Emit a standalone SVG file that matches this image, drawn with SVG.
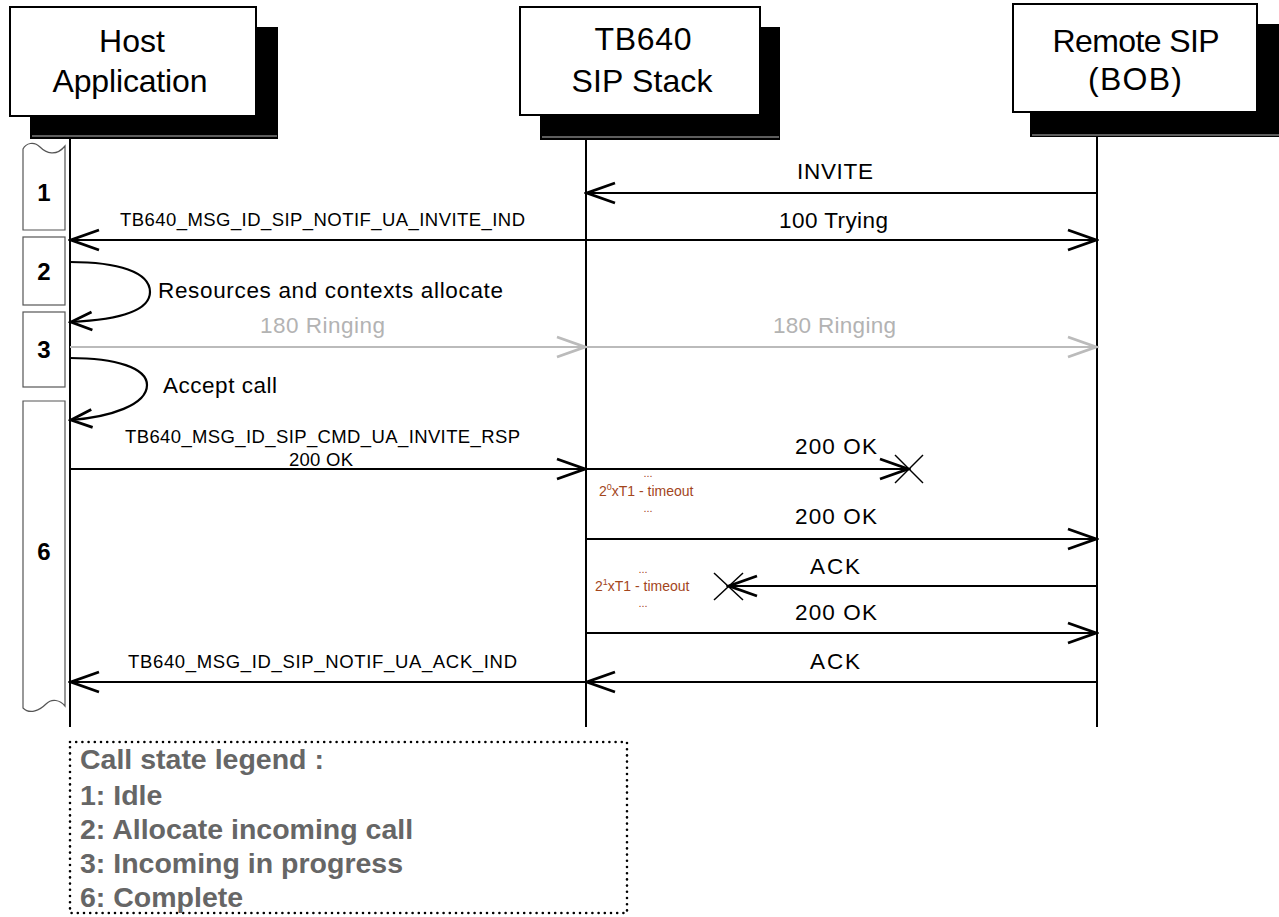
<svg xmlns="http://www.w3.org/2000/svg" width="1279" height="917" viewBox="0 0 1279 917">
<style>
text{font-family:"Liberation Sans",Arial,sans-serif;}
.hdr{font-size:32px;fill:#000;text-anchor:middle;}
.box{fill:#fff;stroke:#000;stroke-width:2;}
.shadow{fill:#000;}
.shline{stroke:#bbb;stroke-width:1;}
.life{stroke:#000;stroke-width:2;fill:none;}
.msg{stroke:#000;stroke-width:2.2;fill:none;marker-end:url(#arr);}
.gmsg{stroke:#bbb;stroke-width:2.2;fill:none;marker-end:url(#garr);}
.lbl{font-size:22.5px;fill:#000;text-anchor:middle;}
.glbl{font-size:22.5px;fill:#b3b3b3;text-anchor:middle;}
.sm{font-size:18.5px;fill:#000;text-anchor:middle;}
.tmo{font-size:14px;fill:#a3461c;}
.dots{font-size:11px;fill:#a3461c;text-anchor:middle;}
.state{fill:#fff;stroke:#555;stroke-width:1.2;}
.snum{font-size:24px;font-weight:bold;fill:#000;text-anchor:middle;}
.xm{stroke:#000;stroke-width:1.5;}
.leg{font-size:28.5px;font-weight:bold;fill:#666;}
</style>
<defs>
<marker id="arr" markerUnits="userSpaceOnUse" markerWidth="34" markerHeight="26" viewBox="-31 -13 34 26" refX="0" refY="0" orient="auto">
<path d="M-28,-10 L0,0 L-28,10" fill="none" stroke="#000" stroke-width="2.8"/>
</marker>
<marker id="garr" markerUnits="userSpaceOnUse" markerWidth="34" markerHeight="26" viewBox="-31 -13 34 26" refX="0" refY="0" orient="auto">
<path d="M-28,-10 L0,0 L-28,10" fill="none" stroke="#bbb" stroke-width="2.8"/>
</marker>
<marker id="larr" markerUnits="userSpaceOnUse" markerWidth="26" markerHeight="24" viewBox="-23 -12 26 24" refX="0" refY="0" orient="auto">
<path d="M-21,-9 L0,0 L-21,9" fill="none" stroke="#000" stroke-width="2.8"/>
</marker>
</defs>

<g id="host">
<rect class="shadow" x="30" y="27" width="248" height="112"/>
<line class="shline" x1="32" y1="136" x2="277" y2="136"/>
<rect class="box" x="10" y="7" width="246" height="109"/>
<text class="hdr" x="132" y="52" textLength="66">Host</text>
<text class="hdr" x="130" y="92" textLength="155">Application</text>
</g>
<g id="tb640">
<rect class="shadow" x="540" y="27" width="240" height="113"/>
<line class="shline" x1="542" y1="137" x2="779" y2="137"/>
<rect class="box" x="520" y="7" width="240" height="108"/>
<text class="hdr" x="643" y="50" textLength="97">TB640</text>
<text class="hdr" x="642" y="92" textLength="141">SIP Stack</text>
</g>
<g id="remote">
<rect class="shadow" x="1030" y="24" width="252" height="113"/>
<line class="shline" x1="1032" y1="135" x2="1279" y2="135"/>
<rect class="box" x="1013" y="4" width="244" height="108"/>
<text class="hdr" x="1136" y="52" textLength="167">Remote SIP</text>
<text class="hdr" x="1135" y="90" textLength="94">(BOB)</text>
</g>

<g id="states">
<g id="state1">
<path class="state" d="M23,230 L23,149 C26,143 34,141 40,147 C46,153 56,157 65,146 L65,230 Z"/>
<text class="snum" x="44" y="201">1</text>
</g>
<g id="state2">
<rect class="state" x="23" y="237" width="42" height="68"/>
<text class="snum" x="44" y="280">2</text>
</g>
<g id="state3">
<rect class="state" x="23" y="312" width="42" height="75"/>
<text class="snum" x="44" y="358">3</text>
</g>
<g id="state6">
<path class="state" d="M23,401 L65,401 L65,706 C60,700 52,698 46,704 C40,710 30,715 23,708 Z"/>
<text class="snum" x="44" y="560">6</text>
</g>
</g>

<g id="lifelines">
<line class="life" x1="70" y1="139" x2="70" y2="727"/>
<line class="life" x1="586" y1="140" x2="586" y2="727"/>
<line class="life" x1="1097" y1="137" x2="1097" y2="727"/>
</g>

<g id="connectors">
<line class="msg" x1="1097" y1="193" x2="587" y2="193"/>
<line class="msg" x1="586" y1="240" x2="71" y2="240"/>
<line class="msg" x1="586" y1="240" x2="1096" y2="240"/>
<path class="msg" style="marker-end:url(#larr)" d="M70,262 C118,262 150,272 150,292 C150,313 112,320 71,322"/>
<line class="gmsg" x1="70" y1="347" x2="585" y2="347"/>
<line class="gmsg" x1="586" y1="347" x2="1096" y2="347"/>
<path class="msg" style="marker-end:url(#larr)" d="M70,358 C116,358 147,368 147,385 C147,405 110,417 71,420"/>
<line class="msg" x1="70" y1="469" x2="585" y2="469"/>
<line class="msg" x1="586" y1="469" x2="908" y2="469"/>
<line class="msg" x1="586" y1="539" x2="1096" y2="539"/>
<line class="msg" x1="1097" y1="586" x2="729" y2="586"/>
<line class="msg" x1="586" y1="633" x2="1096" y2="633"/>
<line class="msg" x1="1097" y1="682" x2="587" y2="682"/>
<line class="msg" x1="586" y1="682" x2="71" y2="682"/>
<line class="xm" x1="895" y1="455" x2="923" y2="483"/>
<line class="xm" x1="895" y1="483" x2="923" y2="455"/>
<line class="xm" x1="714" y1="573" x2="743" y2="600"/>
<line class="xm" x1="714" y1="600" x2="743" y2="573"/>
</g>

<g id="labels">
<text class="lbl" x="835" y="179" textLength="76">INVITE</text>
<text class="lbl" x="833.5" y="228" textLength="109">100 Trying</text>
<text class="sm" x="322.5" y="226" textLength="405">TB640_MSG_ID_SIP_NOTIF_UA_INVITE_IND</text>
<text class="lbl" x="158" y="298" textLength="345" style="text-anchor:start">Resources and contexts allocate</text>
<text class="glbl" x="322.5" y="333" textLength="125">180 Ringing</text>
<text class="glbl" x="834.5" y="333" textLength="123">180 Ringing</text>
<text class="lbl" x="163" y="393" textLength="114" style="text-anchor:start">Accept call</text>
<text class="sm" x="322.5" y="443" textLength="395">TB640_MSG_ID_SIP_CMD_UA_INVITE_RSP</text>
<text class="sm" x="321" y="466" textLength="64">200 OK</text>
<text class="lbl" x="836" y="454" textLength="82">200 OK</text>
<text class="dots" x="648" y="477">...</text>
<text class="tmo" x="599" y="496">2<tspan font-size="9" dy="-6">0</tspan><tspan dy="6">xT1 - timeout</tspan></text>
<text class="dots" x="648" y="512">...</text>
<text class="lbl" x="836" y="524" textLength="82">200 OK</text>
<text class="lbl" x="835" y="574" textLength="50">ACK</text>
<text class="dots" x="643" y="573">...</text>
<text class="tmo" x="595" y="591">2<tspan font-size="9" dy="-6">1</tspan><tspan dy="6">xT1 - timeout</tspan></text>
<text class="dots" x="643" y="607">...</text>
<text class="lbl" x="836" y="620" textLength="82">200 OK</text>
<text class="lbl" x="835" y="669" textLength="50">ACK</text>
<text class="sm" x="322.5" y="668" textLength="389">TB640_MSG_ID_SIP_NOTIF_UA_ACK_IND</text>
</g>

<g id="legend">
<rect x="70" y="742" width="557" height="171" fill="none" stroke="#000" stroke-width="2.6" stroke-linecap="round" stroke-dasharray="0 6.2"/>
<text class="leg" x="80" y="769">Call state legend :</text>
<text class="leg" x="80" y="805">1: Idle</text>
<text class="leg" x="80" y="839">2: Allocate incoming call</text>
<text class="leg" x="80" y="873">3: Incoming in progress</text>
<text class="leg" x="80" y="907">6: Complete</text>
</g>
</svg>
